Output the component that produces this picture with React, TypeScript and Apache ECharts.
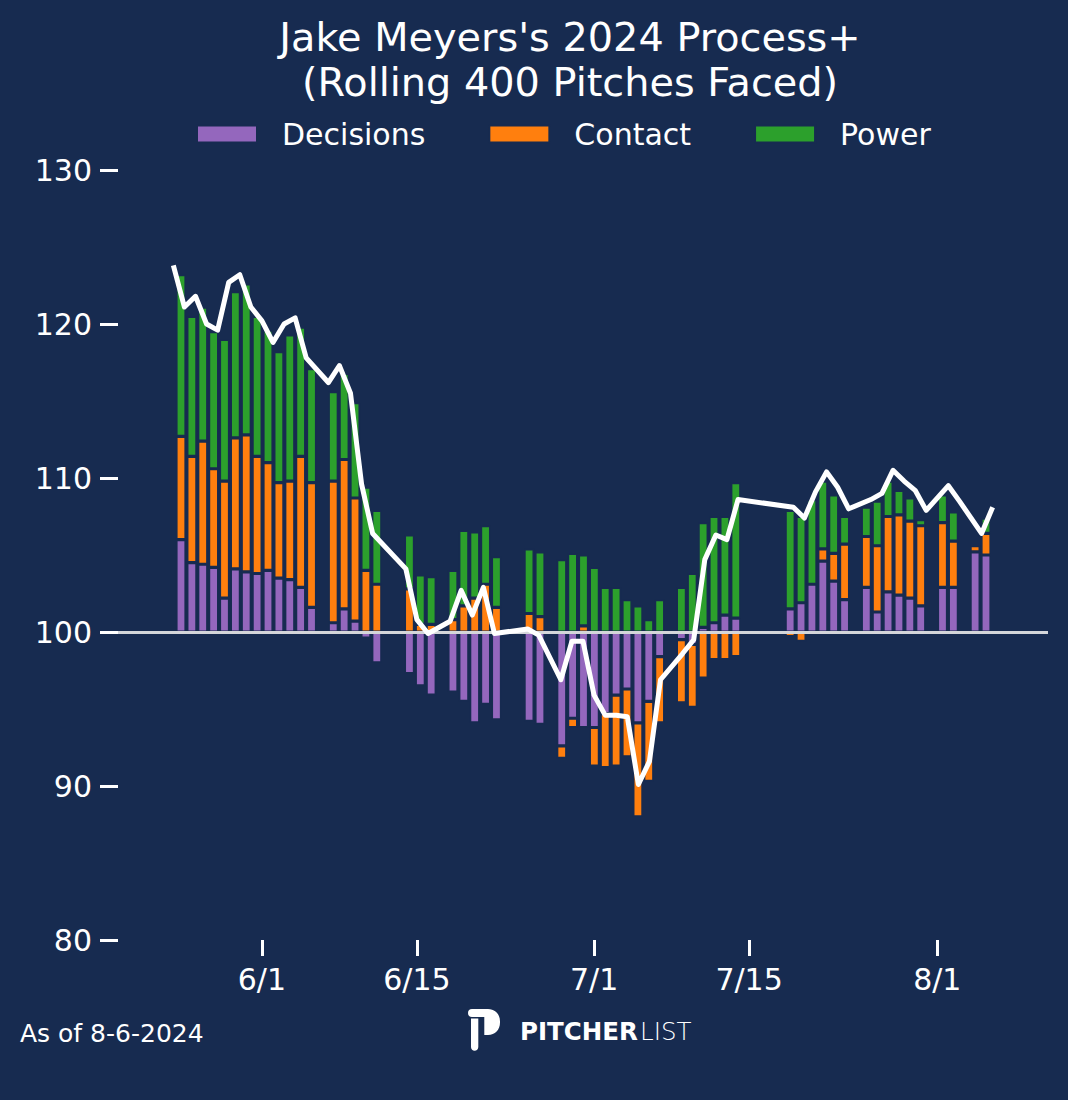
import { useEffect, useRef } from 'react'
import * as echarts from 'echarts'

// game dates (one bar per game)
const gameDates = [
  '2024-05-24', '2024-05-25', '2024-05-26', '2024-05-27', '2024-05-28', '2024-05-29', '2024-05-30', '2024-05-31',
  '2024-06-01', '2024-06-02', '2024-06-03', '2024-06-04', '2024-06-05', '2024-06-07', '2024-06-08', '2024-06-09',
  '2024-06-10', '2024-06-11', '2024-06-14', '2024-06-15', '2024-06-16', '2024-06-18', '2024-06-19', '2024-06-20',
  '2024-06-21', '2024-06-22', '2024-06-25', '2024-06-26', '2024-06-28', '2024-06-29', '2024-06-30', '2024-07-01',
  '2024-07-02', '2024-07-03', '2024-07-04', '2024-07-05', '2024-07-06', '2024-07-07', '2024-07-09', '2024-07-10',
  '2024-07-11', '2024-07-12', '2024-07-13', '2024-07-14', '2024-07-19', '2024-07-20', '2024-07-21', '2024-07-22',
  '2024-07-23', '2024-07-24', '2024-07-26', '2024-07-27', '2024-07-28', '2024-07-29', '2024-07-30', '2024-07-31',
  '2024-08-02', '2024-08-03', '2024-08-05', '2024-08-06'
]

// component contributions, relative to 100
const decisions = [
  6.0, 4.5, 4.4, 4.2, 2.2, 4.1, 3.9, 3.8,
  4.0, 3.5, 3.4, 2.9, 1.6, 0.6, 1.5, 0.7,
  -0.4, -2.0, -2.7, -3.5, -4.1, -3.9, -4.5, -5.9,
  -4.7, -5.7, -5.8, -6.0, -7.4, -5.6, -6.2, -6.2,
  -5.3, -4.1, -3.7, -5.9, -4.5, -1.6, -0.5, -0.8,
  0.3, 0.6, 1.1, 0.9, 1.5, 1.9, 3.1, 4.6,
  3.3, 2.1, 2.9, 1.3, 2.6, 2.4, 2.2, 1.7,
  2.9, 2.9, 5.2, 5.0
]
const contact = [
  6.7, 6.9, 8.0, 6.4, 7.6, 8.5, 8.9, 7.6,
  7.0, 6.2, 6.4, 8.5, 8.1, 9.2, 9.7, 8.0,
  4.0, 3.1, 2.8, 0.5, 0.5, 0.8, 1.7, 2.2,
  3.1, 1.6, 1.2, 1.0, -0.8, -0.6, 0.4, -2.5,
  -3.5, -4.6, -4.4, -6.1, -5.2, -4.3, -4.1, -4.1,
  -3.0, -1.8, -1.8, -1.6, -0.3, -0.6, 0, 0.8,
  1.8, 3.6, 3.3, 4.3, 4.9, 5.2, 5.0, 5.2,
  4.2, 3.0, 0.4, 1.4
]
const power = [
  10.5, 9.1, 8.7, 8.9, 9.2, 9.5, 9.8, 9.1,
  8.6, 8.5, 9.5, 8.4, 7.4, 5.8, 5.6, 6.2,
  5.4, 4.8, 3.5, 3.2, 3.1, 3.2, 4.9, 4.3,
  3.8, 3.3, 4.2, 4.2, 4.7, 5.1, 4.6, 4.2,
  2.9, 2.9, 2.1, 1.7, 0.8, 2.1, 2.9, 3.8,
  6.8, 6.9, 6.4, 8.8, 6.4, 5.6, 5.5, 4.4,
  3.8, 1.8, 1.9, 2.9, 2.3, 1.6, 1.5, 0.4,
  1.8, 1.9, 0, 1.0
]
// rolling Process+ line
const processPlus = [
  123.8, 121.1, 121.8, 120.0, 119.6, 122.7, 123.2, 121.1,
  120.2, 118.8, 120.0, 120.4, 117.8, 116.2, 117.3, 115.5,
  109.6, 106.4, 104.1, 100.8, 99.9, 100.7, 102.7, 101.1,
  102.9, 99.9, 100.2, 99.8, 96.9, 99.4, 99.4, 95.9,
  94.6, 94.6, 94.5, 90.1, 91.6, 96.9, 98.6, 99.5,
  104.7, 106.3, 106.0, 108.6, 108.1, 107.4, 109.1, 110.4,
  109.4, 108.0, 108.6, 109.0, 110.5, 109.8, 109.2, 107.9,
  109.5, 108.5, 106.4, 108.1
]

const tickDates = ['2024-06-01', '2024-06-15', '2024-07-01', '2024-07-15', '2024-08-01']
const seriesNames = ['Decisions', 'Contact', 'Power']
const seriesColors = ['#9467bd', '#ff7f0e', '#2ca02c']

const BG = '#172b50'
const FONT = '"DejaVu Sans", Verdana, sans-serif'
const DAY = 24 * 3600 * 1000

const toTime = (s: string) => {
  const [y, m, d] = s.split('-').map(Number)
  return new Date(y, m - 1, d).getTime()
}

const LOGO_PATH =
  'M0 4 C0 1.5 1.5 0 4 0 L20 0 C27 0 32 5 32 12.5 L32 13.5 C32 21 27 26 20 26 L16.3 26 L16.3 8 L4 8 C1.5 8 0 6.5 0 4 Z ' +
  'M3 9.5 L10.3 9.5 L10.3 38 C10.3 40.2 8.6 41.8 6.6 41.8 C4.6 41.8 3 40.2 3 38 Z'
echarts.graphic.registerShape('plLogo', echarts.graphic.extendPath(LOGO_PATH, {}))

function App() {
  const chartRef = useRef<HTMLDivElement>(null)

  useEffect(() => {
    if (!chartRef.current) return
    const chart = echarts.init(chartRef.current, null, { renderer: 'svg' })

    const times = gameDates.map(toTime)
    const tickTimes = tickDates.map(toTime)
    const first = times[0]
    const components = [decisions, contact, power]

    // bars sit on their own (hidden) time axis so that stacking works per game;
    // echarts pads that axis by half a bar on each side
    const barAxisMin = first - 5.33 * DAY
    const barAxisMax = first + 79.24 * DAY

    const bars = seriesNames.map((name, k) => ({
      name,
      type: 'bar',
      stack: 'process',
      xAxisIndex: 1,
      barWidth: 10,
      data: times.map((t, i) => [t, components[k][i]]),
      itemStyle: { color: seriesColors[k], borderColor: BG, borderWidth: 1.6 },
      emphasis: { disabled: true },
      ...(k === 2
        ? {
            markLine: {
              silent: true,
              symbol: ['none', 'none'],
              label: { show: false },
              lineStyle: { color: '#d4d6da', width: 3, type: 'solid' },
              data: [{ yAxis: 0 }]
            }
          }
        : {})
    }))

    chart.setOption({
      animation: false,
      backgroundColor: BG,
      textStyle: { fontFamily: FONT },
      title: {
        text: "Jake Meyers's 2024 Process+\n(Rolling 400 Pitches Faced)",
        left: 565,
        top: 9,
        textAlign: 'center',
        textStyle: {
          color: '#fff',
          fontSize: 39.8,
          fontWeight: 'normal',
          fontFamily: FONT,
          lineHeight: 45
        }
      },
      legend: {
        data: seriesNames,
        left: 196,
        top: 117,
        padding: 0,
        itemWidth: 60,
        itemHeight: 17,
        itemGap: 63,
        icon: 'rect',
        selectedMode: false,
        textStyle: {
          color: '#fff',
          fontSize: 30,
          fontFamily: FONT,
          lineHeight: 34,
          padding: [0, 0, 0, 20]
        }
      },
      grid: { left: 118, right: 20, top: 170, bottom: 160 },
      xAxis: [
        {
          type: 'value',
          min: toTime('2024-05-19'),
          max: toTime('2024-08-11'),
          axisLine: { show: false, onZero: false },
          splitLine: { show: false },
          axisTick: {
            show: true,
            customValues: tickTimes,
            length: 16,
            lineStyle: { color: '#fff', width: 3 }
          },
          axisLabel: {
            customValues: tickTimes,
            color: '#fff',
            fontSize: 30,
            fontFamily: FONT,
            margin: 24,
            formatter: (v: number) => {
              const d = new Date(v)
              return `${d.getMonth() + 1}/${d.getDate()}`
            }
          }
        },
        {
          type: 'time',
          show: false,
          min: barAxisMin,
          max: barAxisMax,
          axisLine: { onZero: false }
        }
      ],
      yAxis: {
        type: 'value',
        min: -20,
        max: 30,
        interval: 10,
        axisLine: { show: false },
        splitLine: { show: false },
        axisTick: { show: true, length: 18, lineStyle: { color: '#fff', width: 3 } },
        axisLabel: {
          color: '#fff',
          fontSize: 30,
          fontFamily: FONT,
          margin: 26,
          formatter: (v: number) => String(v + 100)
        }
      },
      series: [
        ...bars,
        {
          name: 'Process+',
          type: 'line',
          xAxisIndex: 0,
          z: 10,
          symbol: 'none',
          showSymbol: false,
          data: times.map((t, i) => [t, processPlus[i] - 100]),
          itemStyle: { color: '#fff' },
          lineStyle: { color: '#fff', width: 5, join: 'round' },
          emphasis: { disabled: true }
        }
      ],
      graphic: [
        {
          type: 'text',
          x: 20,
          y: 1033,
          style: {
            text: 'As of 8-6-2024',
            fill: '#fff',
            fontSize: 25,
            fontFamily: FONT,
            verticalAlign: 'middle'
          }
        },
        {
          type: 'plLogo',
          x: 468,
          y: 1009,
          style: { fill: '#fff' }
        },
        {
          type: 'text',
          x: 520,
          y: 1031,
          style: {
            text: 'PITCHER',
            fill: '#fff',
            fontSize: 24.5,
            fontWeight: 'bold',
            fontFamily: FONT,
            verticalAlign: 'middle'
          }
        },
        {
          type: 'text',
          x: 640,
          y: 1031,
          style: {
            text: 'LIST',
            fill: '#fff',
            fontSize: 24.5,
            fontWeight: 200,
            fontFamily: FONT,
            verticalAlign: 'middle'
          }
        }
      ]
    })

    return () => {
      chart.dispose()
    }
  }, [])

  return (
    <div
      ref={chartRef}
      style={{ position: 'absolute', left: 0, top: 0, width: 1068, height: 1100 }}
    />
  )
}

export default App
